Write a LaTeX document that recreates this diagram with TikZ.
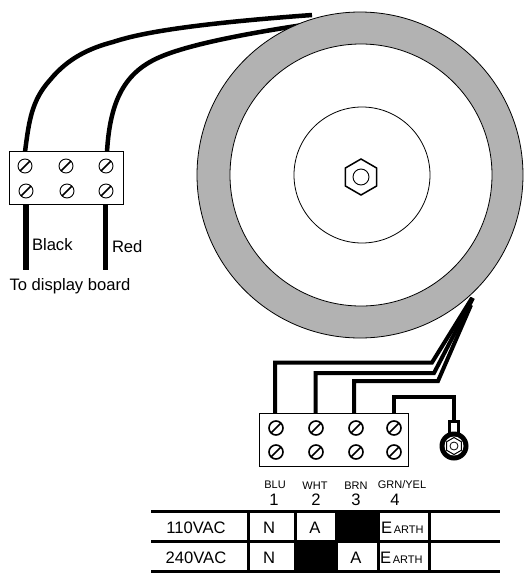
\documentclass[tikz,border=0pt]{standalone}
\usepackage{fontspec}
\setmainfont{Liberation Sans}
\usetikzlibrary{shapes.geometric,calc}
\definecolor{toruscol}{gray}{0.70}
\newcommand{\fbig}{\fontsize{16.6}{18}\selectfont}
\newcommand{\fsmall}{\fontsize{11}{12}\selectfont}
\tikzset{
  every node/.style={inner sep=0pt,outer sep=0pt,text=black},
  screwbase/.style={circle,draw,minimum size=14pt,
    path picture={\draw[line width=1.5pt]
      ($(path picture bounding box.south west)!0.12!(path picture bounding box.north east)$) --
      ($(path picture bounding box.south west)!0.88!(path picture bounding box.north east)$);}},
  screwthin/.style={screwbase,line width=0.9pt},
  screwthick/.style={screwbase,line width=1.6pt},
  block/.style={draw,fill=white,line width=0.8pt,anchor=north west},
  label/.style={font=\fbig},
  wirecap/.style={font=\fsmall},
  digit/.style={font=\fbig,text height=9pt,text depth=0pt,anchor=base},
  tabline/.style={line width=3pt},
  blackcell/.style={fill=black,draw=none,anchor=north west},
  mainswire/.style={line width=4pt},
}
\begin{document}
\begin{tikzpicture}[x=1pt,y=-1pt]
\useasboundingbox (0,0) rectangle (525,574);
% display wires (behind the torus)
\coordinate (topA) at (312,15);
\coordinate (topB) at (303,25);
\coordinate (blA) at (25,152);
\coordinate (blB) at (107,152);
\draw[line width=4.5pt] (blA) .. controls (29,120) and (32,100) .. (50,80)
   .. controls (68,58) and (90,48) .. (113,42)
   .. controls (140,33) and (190,24) .. (topA);
\draw[line width=4.5pt] (blB) .. controls (110,100) and (125,72) .. (160,57)
   .. controls (190,44) and (250,33) .. (topB);
% torus
\node[circle,draw,line width=0.8pt,fill=toruscol,minimum size=326pt] (outer) at (360,175) {};
\node[circle,draw,line width=0.8pt,fill=white,minimum size=262pt] (inner) at (361,175) {};
\node[circle,draw,line width=0.8pt,fill=white,minimum size=136pt] (hub) at (362,175) {};
\node[regular polygon,regular polygon sides=6,shape border rotate=30,draw,line width=1.5pt,minimum size=36pt] (nut) at (361,177) {};
\node[circle,draw,line width=0.9pt,minimum size=16pt] (nuthole) at (361,177) {};
% display terminal block
\node[block,minimum width=113.5pt,minimum height=53pt] (dblock) at (9.5,151) {};
\foreach \n/\x/\y in {a/25/166,b/66/166,c/106/166,d/26/191,e/67/191,f/106/191}
  \node[screwthin] (ds\n) at (\x,\y) {};
\coordinate (blackend) at (26,270);
\coordinate (redend) at (105.5,270);
\draw[line width=5.5pt] (26,204.5) -- (blackend);
\draw[line width=5.5pt] (105.5,204.5) -- (redend);
\node[label,anchor=west] (black) at (32,245) {Black};
\node[label,anchor=west] (red) at (112,247) {Red};
\node[label,anchor=west] (board) at (9.5,286) {To display board};
% mains terminal block
\draw[mainswire,miter limit=10] (275,413) -- (275,362.5) -- (432,362.5) -- (472,298);
\draw[mainswire] (315.5,413) -- (315.5,373) -- (434,373) -- (473,298);
\draw[mainswire] (354,413) -- (354,381) -- (438,381) -- (471,305);
\draw[mainswire] (394,413) -- (394,397) -- (454,397) -- (454,424);
\node[block,line width=1pt,minimum width=149pt,minimum height=53pt] (mblock) at (259,413) {};
\foreach \n/\x/\y in {a/276/428,b/316/428,c/356/428,d/394/428,e/276/452,f/316/452,g/356/452,h/394/452}
  \node[screwthick] (ms\n) at (\x,\y) {};
% earth lug
\node[draw,line width=3pt,fill=white,minimum width=9pt,minimum height=14pt] (lug) at (454,428) {};
\node[circle,fill=black,minimum size=29pt] (stud) at (454,446) {};
\node[circle,fill=white,minimum size=19pt] (studb) at (454,446) {};
\node[regular polygon,regular polygon sides=6,shape border rotate=30,draw,line width=1pt,minimum size=17pt] (studnut) at (454,446) {};
\node[circle,draw,line width=0.8pt,minimum size=8pt] (studhole) at (454,446) {};
% column captions
\node[wirecap] (c1) at (275,484.5) {BLU};
\node[wirecap] (c2) at (315,486) {WHT};
\node[wirecap] (c3) at (356,486) {BRN};
\node[wirecap] (c4) at (402,485) {GRN/YEL};
\node[digit] (n1) at (274,505) {1};
\node[digit] (n2) at (316,505) {2};
\node[digit] (n3) at (356,505) {3};
\node[digit] (n4) at (395,505) {4};
% table
\node[blackcell,minimum width=44pt,minimum height=30pt] (blk1) at (335,511) {};
\node[blackcell,minimum width=43pt,minimum height=30pt] (blk2) at (295,541) {};
\coordinate (tl1) at (151,511); \coordinate (tr1) at (500,511);
\coordinate (tl2) at (151,541); \coordinate (tr2) at (500,541);
\coordinate (tl3) at (151,571); \coordinate (tr3) at (500,571);
\draw[tabline] (tl1) -- (tr1);
\draw[tabline] (tl2) -- (tr2);
\draw[tabline] (tl3) -- (tr3);
\foreach \x in {248,295,429} \draw[tabline] (\x,511) -- (\x,571);
\draw[tabline] (337,511) -- (337,541);
\draw[tabline] (378,511) -- (378,571);
\node[label] (r1) at (196,528) {110VAC};
\node[label] (r2) at (196,558) {240VAC};
\node[label] (n1a) at (269,528) {N};
\node[label] (n2a) at (269,558) {N};
\node[label] (a1) at (315,528) {A};
\node[label] (a2) at (356,558) {A};
\node[label,anchor=west] (e1) at (381,528) {E\fsmall\,ARTH};
\node[label,anchor=west] (e2) at (380,558) {E\fsmall\,ARTH};
\end{tikzpicture}
\end{document}
